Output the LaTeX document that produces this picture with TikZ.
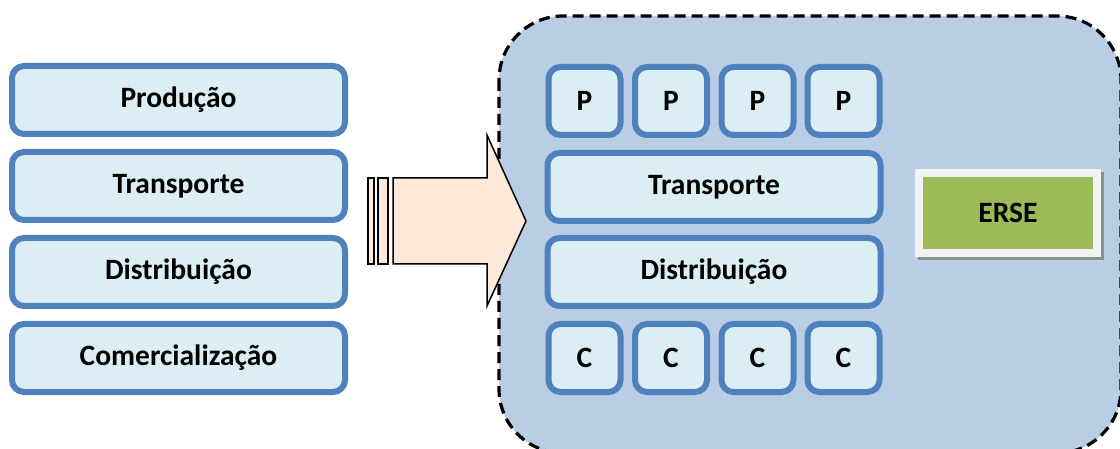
\documentclass[tikz,border=0pt]{standalone}
\usepackage{fontspec}
\setmainfont{Carlito}
\definecolor{boxline}{HTML}{4F81BD}
\definecolor{boxfill}{HTML}{DAEEF3}
\definecolor{regionfill}{HTML}{B9CDE5}
\definecolor{arrowfill}{HTML}{FDE9D9}
\definecolor{ersegreen}{HTML}{9BBB59}
\definecolor{erseframe}{HTML}{F2F2F2}
\definecolor{erseshadow}{HTML}{7F9486}
\tikzset{
  sbox/.style={draw=boxline, line width=6pt, fill=boxfill, rounded corners=12pt,
    inner sep=0pt, font=\fontsize{29.5}{31}\selectfont\bfseries},
  wide/.style={sbox, minimum width=333pt, minimum height=68pt},
  small/.style={sbox, minimum width=72pt, minimum height=68pt},
  arrowpart/.style={draw=black, line width=1.5pt, fill=arrowfill},
}
\begin{document}
\begin{tikzpicture}[x=1pt,y=-1pt]
\useasboundingbox (0,0) rectangle (1120,449);
% region
\begin{scope}
\clip (0,0) rectangle (1120,449);
\draw[fill=regionfill, dash pattern=on 11pt off 6pt, line width=3.2pt, rounded corners=64pt]
  (499,16) rectangle (1121,453);
\end{scope}
% left column
\node[wide] (prod) at (178.5,100) {Produção};
\node[wide] (trans) at (178.5,186) {Transporte};
\node[wide] (dist) at (178.5,272) {Distribuição};
\node[wide] (com) at (178.5,358) {Comercialização};
% arrow
\draw[arrowpart] (368,178) rectangle (374,264);
\draw[arrowpart] (378,178) rectangle (388,264);
\draw[arrowpart] (393,178) -- (487,178) -- (487,135) -- (526,221) -- (487,306) -- (487,264) -- (393,264) -- cycle;
% right column
\node[small] (p1) at (584.5,101) {P};
\node[small] (p2) at (671,101) {P};
\node[small] (p3) at (757.5,101) {P};
\node[small] (p4) at (843.5,101) {P};
\node[wide] (rtrans) at (714,187) {Transporte};
\node[wide] (rdist) at (714,272) {Distribuição};
\node[small] (c1) at (584.5,358) {C};
\node[small] (c2) at (671,358) {C};
\node[small] (c3) at (757.5,358) {C};
\node[small] (c4) at (843.5,358) {C};
% ERSE
\fill[erseshadow] (918,172) rectangle (1104,260);
\fill[erseframe] (915,169) rectangle (1101,257);
\node[fill=ersegreen, minimum width=170pt, minimum height=72pt, inner sep=0pt,
  font=\fontsize{29.5}{31}\selectfont\bfseries] (erse) at (1008,213) {ERSE};
\end{tikzpicture}
\end{document}
